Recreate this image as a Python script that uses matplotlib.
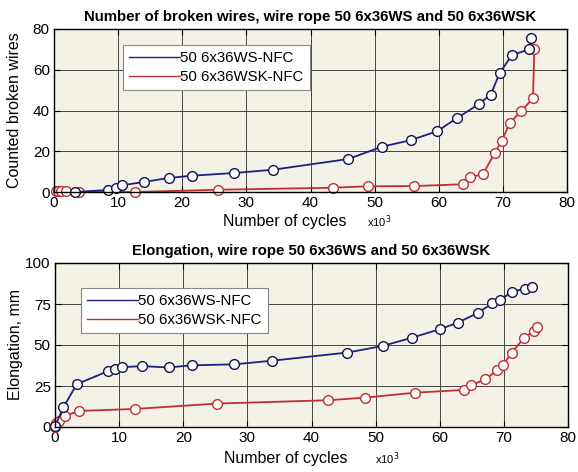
# Broken wires and elongation vs. number of cycles, ropes 50 6x36WS / 6x36WSK
import matplotlib
matplotlib.use('Agg')
import matplotlib.pyplot as plt

# top panel: counted broken wires (cycles in thousands)
ws_wires_x = [3.3, 8.4, 9.6, 10.6, 14.0, 17.9, 21.5, 28.0, 34.1, 45.9, 51.1, 55.7,
              59.8, 62.8, 66.2, 68.1, 69.5, 71.4, 74.1, 74.4]
ws_wires_y = [0, 1.0, 2.1, 3.3, 4.9, 6.9, 8.0, 9.3, 10.9, 16.2, 22.2, 25.5,
              29.9, 36.2, 43.0, 47.8, 58.3, 67.2, 70.0, 75.7]
wsk_wires_x = [0.3, 0.7, 1.1, 1.9, 3.9, 12.7, 25.5, 43.5, 48.9, 56.1, 63.8, 64.9,
               66.9, 68.7, 69.8, 71.1, 72.9, 74.7, 74.9]
wsk_wires_y = [0.3, 0.3, 0.4, 0.5, 0, 0, 1.1, 2.1, 2.8, 2.9, 3.8, 7.2,
               8.8, 19.0, 25.0, 34.0, 39.8, 46.0, 70.1]

# bottom panel: elongation, mm
ws_elong_x = [0.0, 1.3, 3.4, 8.3, 9.4, 10.4, 13.6, 17.7, 21.3, 27.9, 33.8, 45.6,
              51.1, 55.7, 60.0, 62.8, 65.9, 68.2, 69.4, 71.3, 73.3, 74.4]
ws_elong_y = [0.4, 12.0, 26.1, 34.1, 35.3, 36.5, 37.1, 36.3, 37.6, 38.2, 40.4, 45.4,
              49.4, 54.5, 59.6, 63.6, 69.5, 75.4, 77.4, 82.5, 84.3, 85.4]
wsk_elong_x = [0.0, 0.15, 0.6, 1.6, 3.8, 12.5, 25.3, 42.6, 48.3, 56.1, 63.8, 64.9,
               67.1, 69.0, 69.9, 71.2, 73.2, 74.7, 75.2]
wsk_elong_y = [0.2, 2.3, 3.8, 6.9, 9.8, 11.0, 14.3, 16.3, 17.9, 20.9, 22.6, 25.4,
               29.1, 34.8, 37.8, 45.3, 54.5, 58.5, 61.2]

x_ticks = list(range(0, 81, 10))
wires_ticks = [0, 20, 40, 60, 80]
elong_ticks = [0, 25, 50, 75, 100]

BLUE = '#1f1f85'
RED = '#c03030'
BG = '#f4f1e6'

plt.rcParams['font.family'] = ['Liberation Sans', 'DejaVu Sans']

fig = plt.figure(figsize=(5.78, 4.72), dpi=100)
ax1 = fig.add_axes([54 / 578, 1 - 192 / 472, 513 / 578, 163 / 472])
ax2 = fig.add_axes([55 / 578, 1 - 427 / 472, 513 / 578, 164 / 472])


def style_axes(ax, yticks, title, ylabel, xlab_y, unit_x, leg_pos):
    ax.set_facecolor(BG)
    ax.set_xlim(0, 80)
    ax.set_ylim(yticks[0], yticks[-1])
    ax.set_xticks(x_ticks)
    ax.set_yticks(yticks)
    ax.grid(True, color='#444444', linewidth=0.7)
    ax.set_axisbelow(True)
    ax.tick_params(direction='in', length=4, top=True, right=True,
                   labelsize=11, pad=3)
    for s in ax.spines.values():
        s.set_linewidth(1.0)
    ax.set_title(title, fontsize=10.8, fontweight='bold', pad=6)
    ax.set_ylabel(ylabel, fontsize=11.5)
    ax.yaxis.set_label_coords(-0.062, 0.5)
    ax.text(0.45, xlab_y, 'Number of cycles', transform=ax.transAxes,
            ha='center', va='center', fontsize=11.5)
    ax.text(unit_x, xlab_y, r'x10$^{3}$', transform=ax.transAxes,
            ha='center', va='center', fontsize=8)
    leg = ax.legend(loc='upper left', bbox_to_anchor=leg_pos, fontsize=10.8,
                    fancybox=False, framealpha=1, edgecolor='#888888',
                    handlelength=3.4, handletextpad=0.05, labelspacing=0.35,
                    borderpad=0.4, borderaxespad=0)
    leg.get_frame().set_linewidth(0.8)


mk = dict(marker='o', markersize=7, markerfacecolor='white',
          markeredgewidth=1.0, linewidth=1.3, clip_on=False)

ax1.plot(wsk_wires_x, wsk_wires_y, color=RED, markeredgecolor=RED, **mk)
ax1.plot(ws_wires_x, ws_wires_y, color=BLUE, markeredgecolor='#14144a', **mk)
ax1.plot([], [], color=BLUE, linewidth=1.0, label='50 6x36WS-NFC')
ax1.plot([], [], color=RED, linewidth=1.0, label='50 6x36WSK-NFC')
style_axes(ax1, wires_ticks,
           'Number of broken wires, wire rope 50 6x36WS and 50 6x36WSK',
           'Counted broken wires', -0.184, 0.633, (0.134, 0.902))

ax2.plot(wsk_elong_x, wsk_elong_y, color=RED, markeredgecolor=RED, **mk)
ax2.plot(ws_elong_x, ws_elong_y, color=BLUE, markeredgecolor='#14144a', **mk)
ax2.plot([], [], color=BLUE, linewidth=1.0, label='50 6x36WS-NFC')
ax2.plot([], [], color=RED, linewidth=1.0, label='50 6x36WSK-NFC')
style_axes(ax2, elong_ticks,
           'Elongation, wire rope 50 6x36WS and 50 6x36WSK',
           'Elongation, mm', -0.195, 0.648, (0.05, 0.848))

fig.savefig('out.png', dpi=100, facecolor='white')
